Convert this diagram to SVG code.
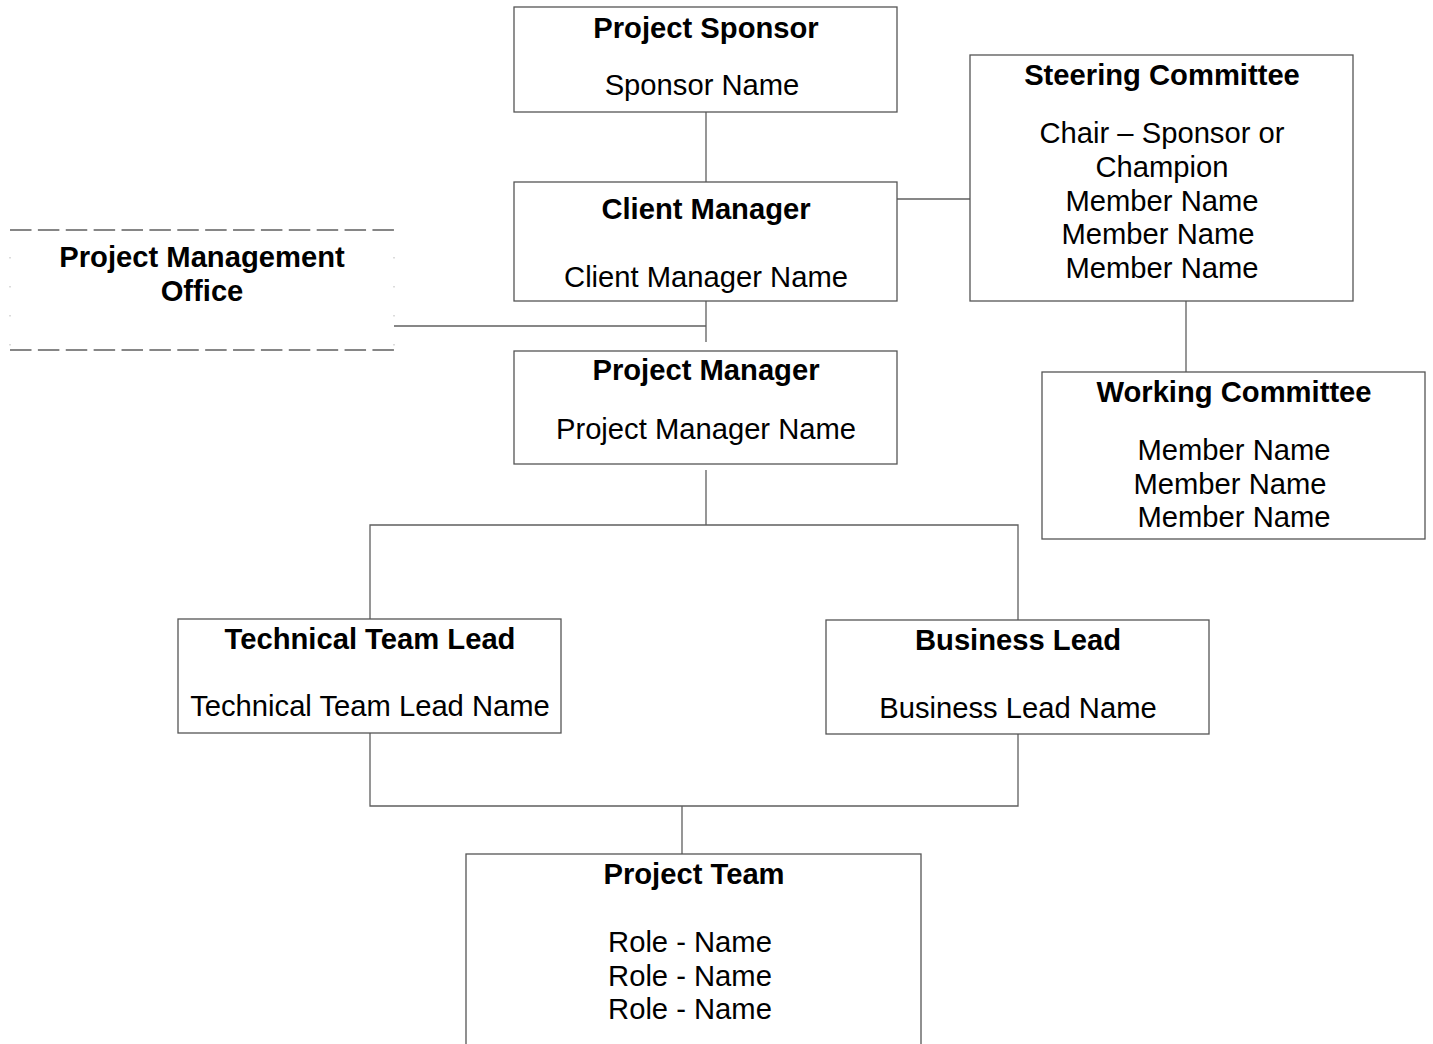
<svg xmlns="http://www.w3.org/2000/svg" width="1433" height="1044" viewBox="0 0 1433 1044">
  <style>
    .box { fill: #ffffff; stroke: #555555; stroke-width: 1.3; }
    .wire { fill: none; stroke: #5f5f5f; stroke-width: 1.3; }
    .dash { fill: none; stroke: #5f5f5f; stroke-width: 1.6; stroke-dasharray: 21.5 6.38; }
    .dots { fill: none; stroke: #b8b8b8; stroke-width: 1; stroke-dasharray: 1.5 27.5; }
    text { font-family: "Liberation Sans", Arial, sans-serif; font-size: 29.2px; fill: #000000; text-anchor: middle; }
    .title { font-weight: bold; }
  </style>
  <rect width="1433" height="1044" fill="#ffffff"/>

  <!-- connectors -->
  <g id="connectors">
    <line class="wire" x1="706" y1="112" x2="706" y2="182"/>
    <line class="wire" x1="897" y1="199" x2="970" y2="199"/>
    <line class="wire" x1="1186" y1="301" x2="1186" y2="372"/>
    <line class="wire" x1="706" y1="301" x2="706" y2="342"/>
    <line class="wire" x1="394" y1="326" x2="706" y2="326"/>
    <polyline class="wire" points="706,470 706,525"/>
    <polyline class="wire" points="370,619 370,525 1018,525 1018,620"/>
    <polyline class="wire" points="370,733 370,806 1018,806 1018,734"/>
    <line class="wire" x1="682" y1="806" x2="682" y2="854"/>
  </g>

  <!-- Project Sponsor -->
  <g id="project-sponsor">
    <rect class="box" x="514" y="7" width="383" height="105"/>
    <text class="title" x="706" y="38">Project Sponsor</text>
    <text x="702" y="95">Sponsor Name</text>
  </g>

  <!-- Client Manager -->
  <g id="client-manager">
    <rect class="box" x="514" y="182" width="383" height="119"/>
    <text class="title" x="706" y="219">Client Manager</text>
    <text x="706" y="287">Client Manager Name</text>
  </g>

  <!-- Project Management Office (dashed outline) -->
  <g id="pmo">
    <line class="dash" x1="10" y1="230" x2="394" y2="230"/>
    <line class="dash" x1="10" y1="350" x2="394" y2="350"/>
    <line class="dots" x1="10" y1="257" x2="10" y2="350"/>
    <line class="dots" x1="394" y1="257" x2="394" y2="350"/>
    <text class="title" x="202" y="267">Project Management</text>
    <text class="title" x="202" y="301">Office</text>
  </g>

  <!-- Project Manager -->
  <g id="project-manager">
    <rect class="box" x="514" y="351" width="383" height="113"/>
    <text class="title" x="706" y="380">Project Manager</text>
    <text x="706" y="439">Project Manager Name</text>
  </g>

  <!-- Steering Committee -->
  <g id="steering-committee">
    <rect class="box" x="970" y="55" width="383" height="246"/>
    <text class="title" x="1162" y="85">Steering Committee</text>
    <text x="1162" y="143">Chair – Sponsor or</text>
    <text x="1162" y="177">Champion</text>
    <text x="1162" y="211">Member Name</text>
    <text x="1158" y="244">Member Name</text>
    <text x="1162" y="278">Member Name</text>
  </g>

  <!-- Working Committee -->
  <g id="working-committee">
    <rect class="box" x="1042" y="372" width="383" height="167"/>
    <text class="title" x="1234" y="402">Working Committee</text>
    <text x="1234" y="460">Member Name</text>
    <text x="1230" y="494">Member Name</text>
    <text x="1234" y="527">Member Name</text>
  </g>

  <!-- Technical Team Lead -->
  <g id="technical-team-lead">
    <rect class="box" x="178" y="619" width="383" height="114"/>
    <text class="title" x="370" y="649">Technical Team Lead</text>
    <text x="370" y="716">Technical Team Lead Name</text>
  </g>

  <!-- Business Lead -->
  <g id="business-lead">
    <rect class="box" x="826" y="620" width="383" height="114"/>
    <text class="title" x="1018" y="650">Business Lead</text>
    <text x="1018" y="718">Business Lead Name</text>
  </g>

  <!-- Project Team -->
  <g id="project-team">
    <rect class="box" x="466" y="854" width="455" height="200"/>
    <text class="title" x="694" y="884">Project Team</text>
    <text x="690" y="952">Role - Name</text>
    <text x="690" y="986">Role - Name</text>
    <text x="690" y="1019">Role - Name</text>
  </g>
</svg>
